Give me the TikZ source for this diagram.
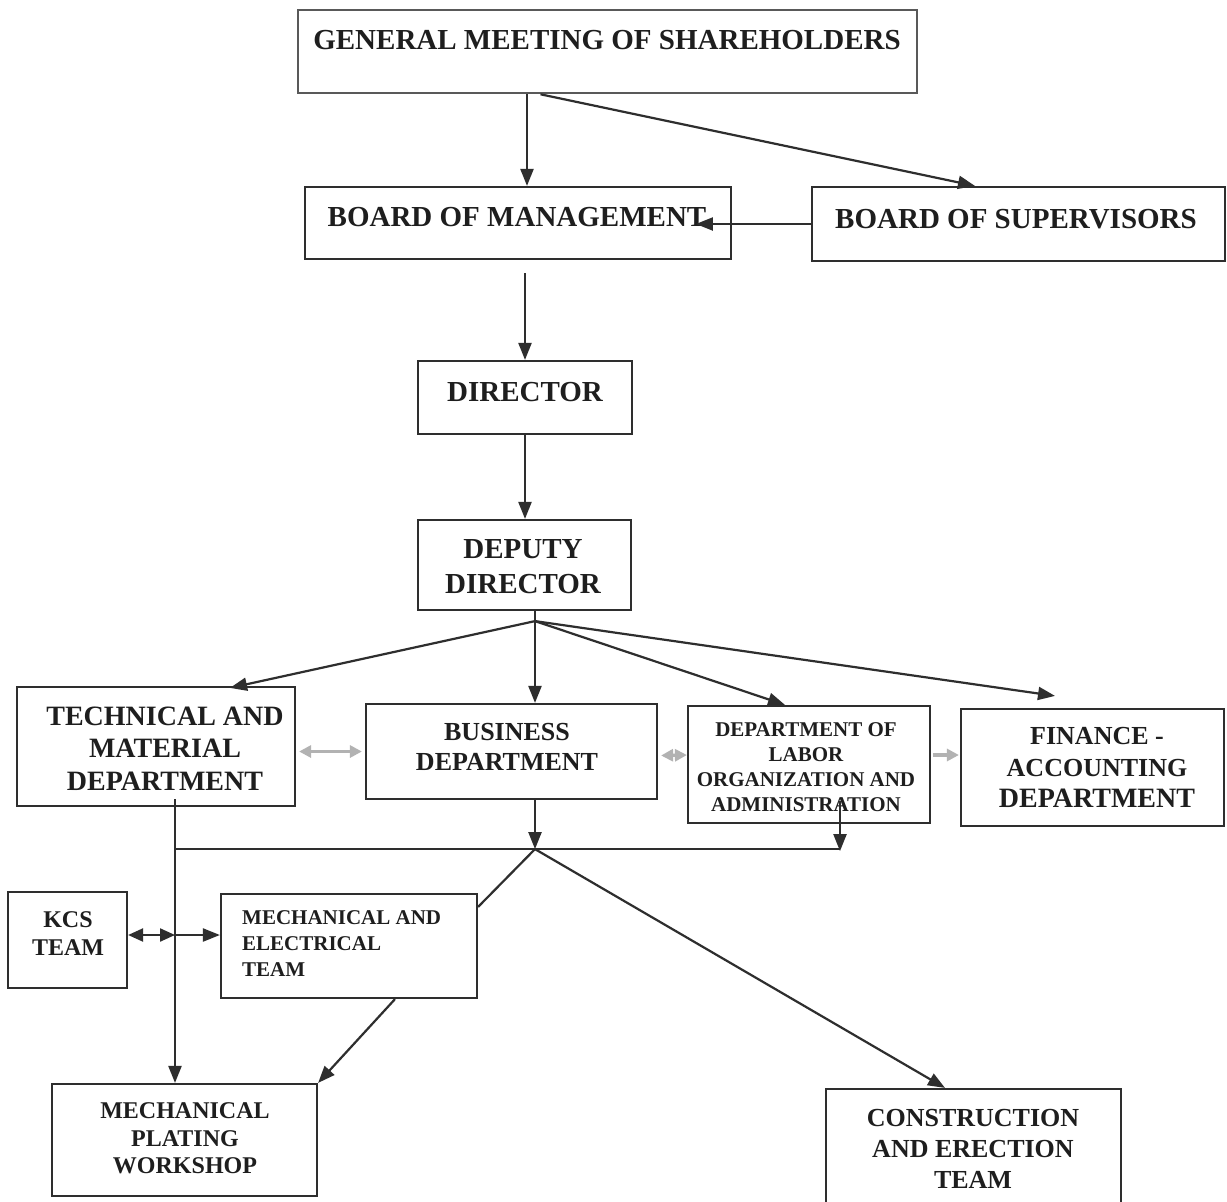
\documentclass[tikz,border=0pt]{standalone}
\usepackage{fontspec}
\setmainfont{Liberation Serif}
\usetikzlibrary{arrows.meta,calc}
\definecolor{ink}{HTML}{1E1E1E}
\definecolor{ln}{HTML}{2E2E2E}
\tikzset{
  box/.style={draw=ln, line width=2.2pt, inner sep=0pt, rectangle},
  txt/.style={text=ink, font=\bfseries, align=center, inner sep=0pt},
  arr/.style={draw=ln, line width=2.2pt, -{Triangle[length=17pt,width=13pt]}},
  arrb/.style={draw=ln, line width=2.2pt, {Triangle[length=15pt,width=13pt]}-{Triangle[length=15pt,width=13pt]}},
  plain/.style={draw=ln, line width=2.2pt},
  garr/.style={draw=gray!60, line width=3.2pt, -{Triangle[length=12pt,width=12pt]}},
  garrb/.style={draw=gray!60, line width=3.2pt, {Triangle[length=12pt,width=12pt]}-{Triangle[length=12pt,width=12pt]}},
}
\newcommand{\fs}[2]{\fontsize{#1}{#2}\selectfont}
\begin{document}
\begin{tikzpicture}[x=1pt,y=-1pt]
\useasboundingbox[fill=white] (0,0) rectangle (1227,1202);
% boxes
\node[box, draw=gray!70!black, line width=2.6pt, minimum width=619pt, minimum height=83pt] (gms) at (607.5,51.5) {};
\node[box, minimum width=426pt, minimum height=72pt] (bom) at (518,223) {};
\node[box, minimum width=413pt, minimum height=74pt] (bos) at (1018.5,224) {};
\node[box, minimum width=214pt, minimum height=73pt] (dir) at (525,397.5) {};
\node[box, minimum width=213pt, minimum height=90pt] (dep) at (524.5,565) {};
\node[box, minimum width=278pt, minimum height=119pt] (tmd) at (156,746.5) {};
\node[box, minimum width=291pt, minimum height=95pt] (bus) at (511.5,751.5) {};
\node[box, minimum width=242pt, minimum height=117pt] (lab) at (809,764.5) {};
\node[box, minimum width=263pt, minimum height=117pt] (fin) at (1092.5,767.5) {};
\node[box, minimum width=119pt, minimum height=96pt] (kcs) at (67.5,940) {};
\node[box, minimum width=256pt, minimum height=104pt] (mae) at (349,946) {};
\node[box, minimum width=265pt, minimum height=112pt] (mpw) at (184.5,1140) {};
\node[box, minimum width=295pt, minimum height=126pt] (cet) at (973.5,1152) {};
% texts
\node[txt, font=\bfseries\fs{29}{35}] (tgms) at (607,40) {GENERAL MEETING OF SHAREHOLDERS};
\node[txt, font=\bfseries\fs{29}{35}] (tbom) at (517,217) {BOARD OF MANAGEMENT};
\node[txt, font=\bfseries\fs{29}{35}] (tbos) at (1016,219) {BOARD OF SUPERVISORS};
\node[txt, font=\bfseries\fs{29}{35}] (tdir) at (525,392) {DIRECTOR};
\node[txt, font=\bfseries\fs{29}{35}] (tdep) at (523,566.5) {DEPUTY\\DIRECTOR};
\node[txt, font=\bfseries\fs{28}{32.5}] (ttmd) at (165,748.5) {TECHNICAL AND\\MATERIAL\\DEPARTMENT};
\node[txt, font=\bfseries\fs{26}{30}] (tbus) at (507,747) {BUSINESS\\DEPARTMENT};
\node[txt, font=\bfseries\fs{21}{25}] (tlab) at (806,767.5) {DEPARTMENT OF\\LABOR\\ORGANIZATION AND\\ADMINISTRATION};
\node[txt, font=\bfseries\fs{26}{31.5}] (tfin) at (1097,767.5) {FINANCE -\\ACCOUNTING\\{\fs{28}{31.5}DEPARTMENT}};
\node[txt, font=\bfseries\fs{24}{28}] (tkcs) at (68,934) {KCS\\TEAM};
\node[txt, font=\bfseries\fs{21}{26}, align=left, anchor=west] (tmae) at (242,944) {MECHANICAL AND\\ELECTRICAL\\TEAM};
\node[txt, font=\bfseries\fs{24}{27.5}] (tmpw) at (185,1138.5) {MECHANICAL\\PLATING\\WORKSHOP};
\node[txt, font=\bfseries\fs{26}{31}] (tcet) at (973,1149) {CONSTRUCTION\\AND ERECTION\\TEAM};
% helper coordinates
\coordinate (fan) at ($(dep.south)+(10.5,10)$);
\coordinate (fan2) at ($(bus.south -| fan)+(0,49)$);
\coordinate (trunk) at ($(tmd.south)+(19,-8)$);
\coordinate (hl) at (trunk |- fan2);
\coordinate (la) at ($(lab.south)+(31,-23)$);
\coordinate (hr) at (la |- fan2);
\coordinate (kj) at ($(trunk |- kcs.east)+(0,-5)$);
% connectors
\draw[arr] ($(gms.south -| dir.north)+(2,0)$) -- ($(bom.north -| dir.north)+(2,0)$);
\draw[arr] ($(gms.south)+(-67,0)$) -- ($(bos.north)+(-43.5,0)$);
\draw[arr] (bos.west) -- ($(bos.west)+(-115,0)$);
\draw[arr] ($(bom.south -| dir.north)+(0,13)$) -- (dir.north);
\draw[arr] (dir.south) -- (dep.north -| dir.south);
\draw[plain] (dep.south -| fan) -- (fan);
\draw[arr] (fan) -- ($(tmd.north)+(74,2)$);
\draw[arr] (fan) -- (fan |- bus.north);
\draw[arr] (fan) -- ($(lab.north)+(-24,0)$);
\draw[arr] (fan) -- ($(fin.north)+(-37.5,-12)$);
\draw[garrb] ($(tmd.east |- bus.west)+(3,0)$) -- ($(bus.west)+(-3,0)$);
\draw[garrb] ($(bus.east)+(3,4)$) -- ($(lab.west)+(0,-9.5)$);
\draw[garr] ($(lab.east)+(2,-9.5)$) -- ($(fin.west)+(-1,-12.5)$);
\draw[arr] (bus.south -| fan) -- (fan2);
\draw[plain] (hl) -- (hr);
\draw[arr] (la) -- ($(hr)+(0,2)$);
\draw[arr] (trunk) -- (mpw.north -| trunk);
\draw[arrb] (kcs.east |- kj) -- (kj);
\draw[arr] (kj) -- (mae.west |- kj);
\draw[plain] (fan2) -- ($(mae.north east)+(0,14)$);
\draw[arr] (fan2) -- ($(cet.north)+(-28.5,0)$);
\draw[arr] ($(mae.south)+(46,0)$) -- (mpw.north east);
\end{tikzpicture}
\end{document}
